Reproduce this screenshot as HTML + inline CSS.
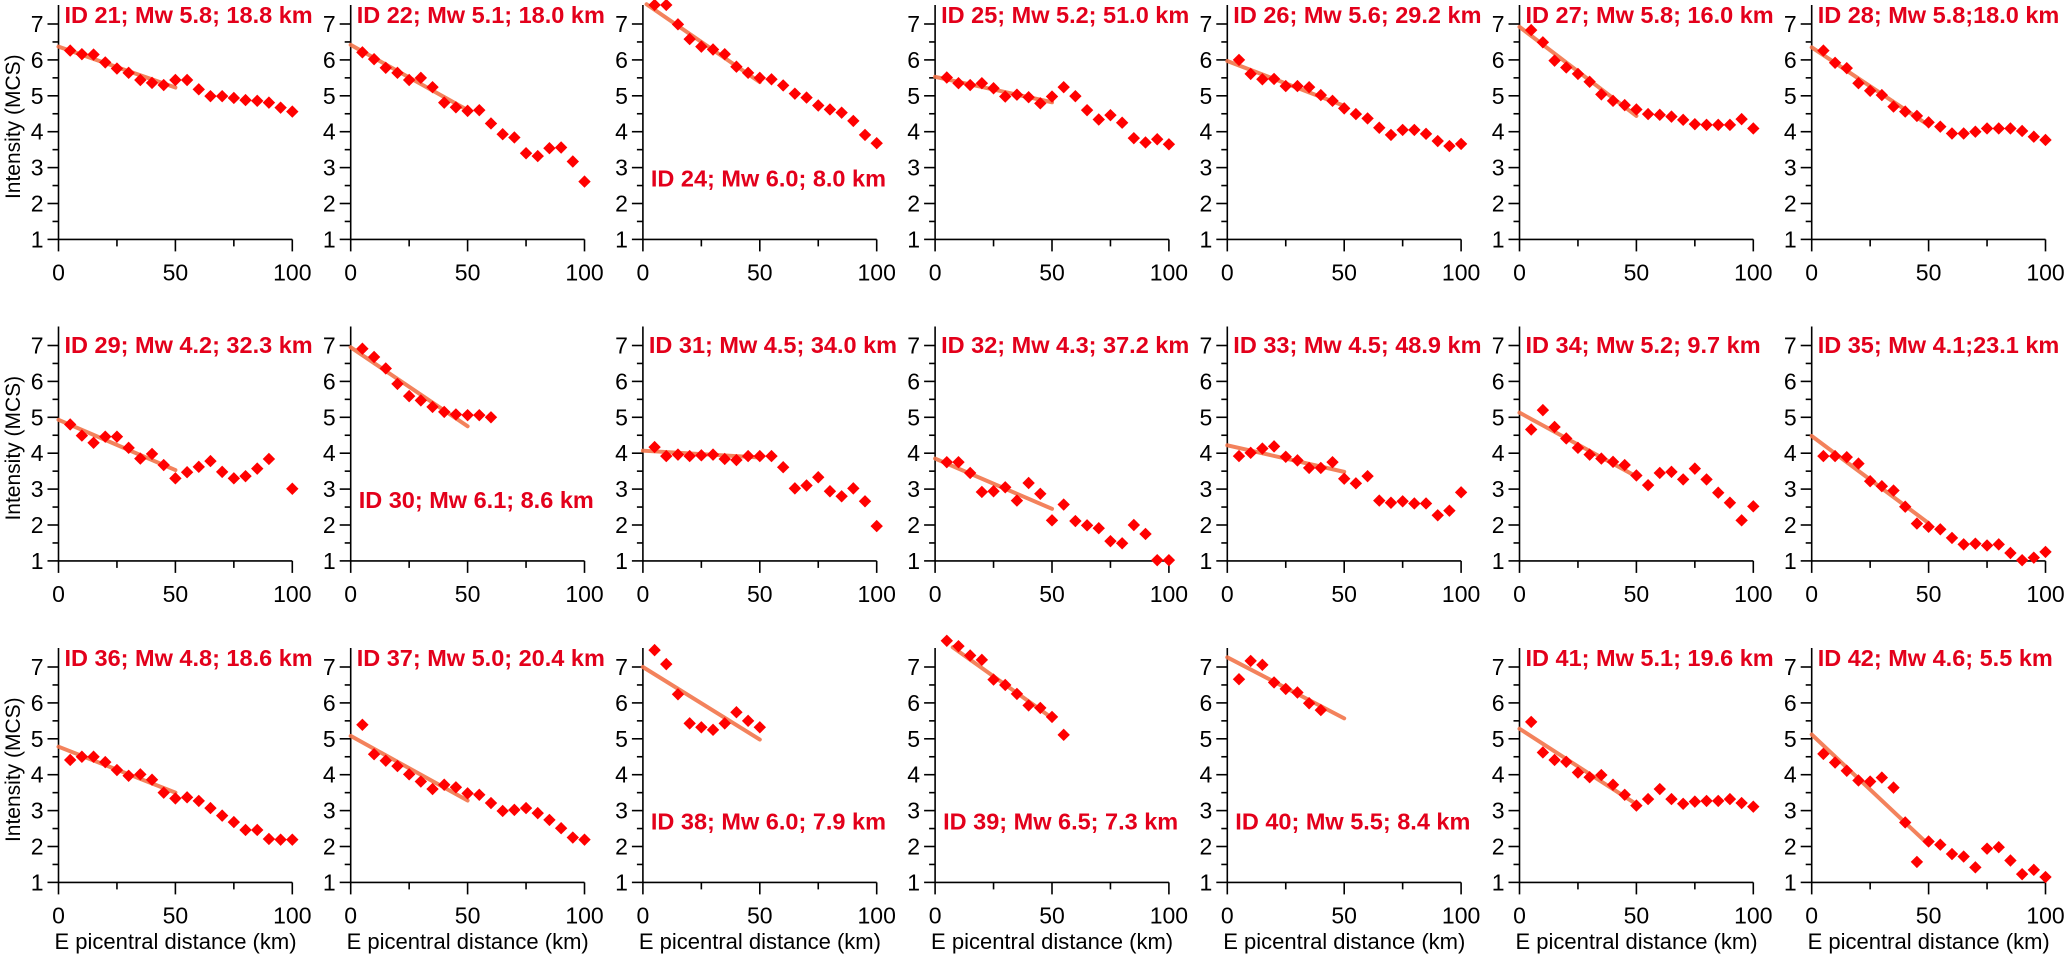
<!DOCTYPE html>
<html><head><meta charset="utf-8"><style>
html,body{margin:0;padding:0;background:#fff;}
svg{display:block;}
text{font-family:"Liberation Sans",sans-serif;}
</style></head><body>
<svg id="chart" width="2067" height="955" viewBox="0 0 2067 955" xmlns="http://www.w3.org/2000/svg"></svg>
<script>
const distances = [5,10,15,20,25,30,35,40,45,50,55,60,65,70,75,80,85,90,95,100];
const panelTitles = ["ID 21; Mw 5.8; 18.8 km","ID 22; Mw 5.1; 18.0 km","ID 24; Mw 6.0; 8.0 km","ID 25; Mw 5.2; 51.0 km","ID 26; Mw 5.6; 29.2 km","ID 27; Mw 5.8; 16.0 km","ID 28; Mw 5.8;18.0 km",
"ID 29; Mw 4.2; 32.3 km","ID 30; Mw 6.1; 8.6 km","ID 31; Mw 4.5; 34.0 km","ID 32; Mw 4.3; 37.2 km","ID 33; Mw 4.5; 48.9 km","ID 34; Mw 5.2; 9.7 km","ID 35; Mw 4.1;23.1 km",
"ID 36; Mw 4.8; 18.6 km","ID 37; Mw 5.0; 20.4 km","ID 38; Mw 6.0; 7.9 km","ID 39; Mw 6.5; 7.3 km","ID 40; Mw 5.5; 8.4 km","ID 41; Mw 5.1; 19.6 km","ID 42; Mw 4.6; 5.5 km"];
const titleInside = [false,false,true,false,false,false,false, false,true,false,false,false,false,false, false,false,true,true,true,false,false];
const panelValues = [
[6.26,6.16,6.15,5.93,5.76,5.64,5.44,5.36,5.30,5.44,5.44,5.18,4.99,4.99,4.94,4.88,4.86,4.81,4.67,4.56],
[6.21,6.02,5.78,5.64,5.44,5.50,5.24,4.81,4.68,4.58,4.60,4.23,3.93,3.84,3.40,3.32,3.54,3.56,3.17,2.61],
[7.53,7.53,6.99,6.58,6.37,6.29,6.16,5.81,5.64,5.50,5.46,5.29,5.06,4.95,4.73,4.62,4.53,4.30,3.91,3.68],
[5.51,5.35,5.30,5.35,5.21,4.98,5.03,4.96,4.79,4.98,5.24,4.99,4.60,4.34,4.46,4.25,3.82,3.70,3.79,3.65],
[6.00,5.61,5.46,5.47,5.27,5.27,5.24,5.02,4.86,4.65,4.49,4.37,4.11,3.91,4.05,4.05,3.94,3.74,3.60,3.66],
[6.83,6.49,5.98,5.79,5.61,5.39,5.04,4.86,4.74,4.62,4.49,4.47,4.42,4.33,4.21,4.19,4.19,4.19,4.35,4.09],
[6.26,5.92,5.77,5.35,5.14,5.02,4.70,4.56,4.44,4.26,4.14,3.95,3.95,4.00,4.09,4.09,4.09,4.02,3.86,3.77],
[4.80,4.49,4.29,4.46,4.46,4.15,3.85,3.98,3.67,3.30,3.47,3.62,3.78,3.48,3.30,3.36,3.57,3.84,null,3.01],
[6.91,6.68,6.36,5.93,5.59,5.47,5.29,5.15,5.08,5.06,5.06,5.00,null,null,null,null,null,null,null,null],
[4.17,3.92,3.96,3.92,3.94,3.96,3.84,3.81,3.92,3.92,3.92,3.61,3.02,3.10,3.33,2.94,2.80,3.02,2.66,1.97],
[3.75,3.75,3.45,2.92,2.94,3.05,2.68,3.17,2.87,2.13,2.57,2.11,1.99,1.91,1.55,1.49,2.00,1.75,1.02,1.02],
[3.92,4.01,4.13,4.19,3.90,3.80,3.59,3.59,3.75,3.29,3.16,3.36,2.68,2.62,2.66,2.60,2.60,2.27,2.40,2.91],
[4.66,5.20,4.73,4.41,4.15,3.96,3.85,3.76,3.67,3.38,3.11,3.45,3.48,3.27,3.57,3.27,2.90,2.62,2.13,2.52],
[3.92,3.92,3.89,3.71,3.22,3.08,2.96,2.51,2.04,1.95,1.88,1.64,1.46,1.48,1.43,1.46,1.22,1.02,1.09,1.25],
[4.41,4.50,4.50,4.35,4.13,3.97,4.01,3.86,3.50,3.34,3.37,3.27,3.07,2.86,2.68,2.46,2.46,2.21,2.19,2.19],
[5.39,4.57,4.39,4.24,4.01,3.81,3.60,3.72,3.65,3.48,3.44,3.21,2.99,3.02,3.07,2.93,2.74,2.51,2.25,2.19],
[7.47,7.08,6.24,5.43,5.32,5.25,5.43,5.74,5.50,5.32,null,null,null,null,null,null,null,null,null,null],
[7.73,7.58,7.32,7.20,6.65,6.50,6.25,5.93,5.86,5.61,5.11,null,null,null,null,null,null,null,null,null],
[6.66,7.17,7.06,6.57,6.39,6.29,5.99,5.80,null,null,null,null,null,null,null,null,null,null,null,null],
[5.47,4.62,4.41,4.36,4.06,3.93,3.99,3.72,3.44,3.14,3.32,3.60,3.32,3.19,3.25,3.27,3.27,3.32,3.21,3.11],
[4.58,4.34,4.11,3.84,3.81,3.92,3.64,2.67,1.57,2.14,2.05,1.79,1.72,1.42,1.94,1.98,1.61,1.23,1.35,1.15]];
const fitStart = [6.37,6.42,7.62,5.53,5.97,6.92,6.35, 4.93,6.95,4.07,3.85,4.22,5.13,4.48, 4.78,5.08,7.00,7.90,7.27,5.28,5.12];
const fitEnd = [5.23,4.60,5.38,4.82,4.72,4.44,4.18, 3.53,4.75,3.88,2.45,3.48,3.35,2.05, 3.50,3.28,4.98,5.58,5.57,3.18,2.05];
const fitDistEnd = 50;
const yTicks = [1,2,3,4,5,6,7];
const xTicks = [0,50,100];

const NS = "http://www.w3.org/2000/svg";
const svg = document.getElementById('chart');
function mk(tag, attrs, parent){const e=document.createElementNS(NS,tag);for(const k in attrs)e.setAttribute(k,attrs[k]);(parent||svg).appendChild(e);return e;}

const COL0 = 58.5, COLSTEP = 292.2, XW = 233.8;
const ROW7 = 24, ROWSTEP = 321.5, UNIT = 35.9;
const titleBase = [23, 353, 666];

for (let p=0;p<21;p++){
  const c=p%7, r=Math.floor(p/7);
  const x0=COL0+c*COLSTEP, y7=ROW7+r*ROWSTEP;
  const xs=d=>x0+d/100*XW;
  const ys=v=>y7+(7-v)*UNIT;
  const g=mk('g',{});
  
  
  const ax=mk('g',{stroke:'#000','stroke-width':1.6,fill:'none'},g);
  
  
  mk('line',{x1:x0,y1:ys(7.53),x2:x0,y2:ys(1)},ax);
  mk('line',{x1:x0,y1:ys(1),x2:xs(100),y2:ys(1)},ax);
  for(let v=1;v<=7;v+=0.5){
    const major=Number.isInteger(v);
    mk('line',{x1:x0-(major?11:6),y1:ys(v),x2:x0,y2:ys(v)},ax);
  }
  for(let d=0;d<=100;d+=25){
    const major=d%50===0;
    mk('line',{x1:xs(d),y1:ys(1),x2:xs(d),y2:ys(1)+(major?12:7)},ax);
  }
  yTicks.forEach(v=>{
    const t=mk('text',{x:x0-15,y:ys(v)+8,'text-anchor':'end','font-size':23,fill:'#000'},g);
    
    
    t.textContent=v;
  });
  xTicks.forEach(d=>{
    const t=mk('text',{x:xs(d),y:ys(1)+41,'text-anchor':'middle','font-size':23,fill:'#000'},g);
    
    
    t.textContent=d;
  });
  let lx0=0, lv0=fitStart[p];
  const slope=(fitEnd[p]-fitStart[p])/fitDistEnd;
  if(lv0>7.55){ lx0=(7.55-fitStart[p])/slope; lv0=7.55; }
  const fl=mk('line',{x1:xs(lx0),y1:ys(lv0),x2:xs(fitDistEnd),y2:ys(fitEnd[p]),stroke:'#f2744a','stroke-width':4,'stroke-linecap':'round','stroke-opacity':0.9},g);
  
  
  panelValues[p].forEach((v,i)=>{
    if(v===null) return;
    const cx=xs(distances[i]), cy=ys(v), h=6.2;
    const pt=mk('polygon',{points:`${cx},${cy-h} ${cx+h},${cy} ${cx},${cy+h} ${cx-h},${cy}`,fill:'#ff0000'},g);
    
    
  });
  let tx=x0+6, ty=titleBase[r];
  if(titleInside[p]){ tx=x0+8; ty=ys(2.7)+8; }
  const tt=mk('text',{x:tx,y:ty,'font-size':23.5,'font-weight':'bold',fill:'#e3001b'},g);
  
  
  tt.textContent=panelTitles[p];
  if(c===0){
    const cy=y7+(7-4)*UNIT;
    const yt=mk('text',{x:0,y:0,transform:`translate(20,${cy-5}) rotate(-90)`,'text-anchor':'middle','font-size':21,fill:'#000'},g);
    
    
    yt.textContent='Intensity (MCS)';
  }
  if(r===2){
    const xt=mk('text',{x:x0+117,y:949,'text-anchor':'middle','font-size':22,fill:'#000'},g);
    
    
    xt.textContent='E picentral distance (km)';
  }
}
</script>
</body></html>
